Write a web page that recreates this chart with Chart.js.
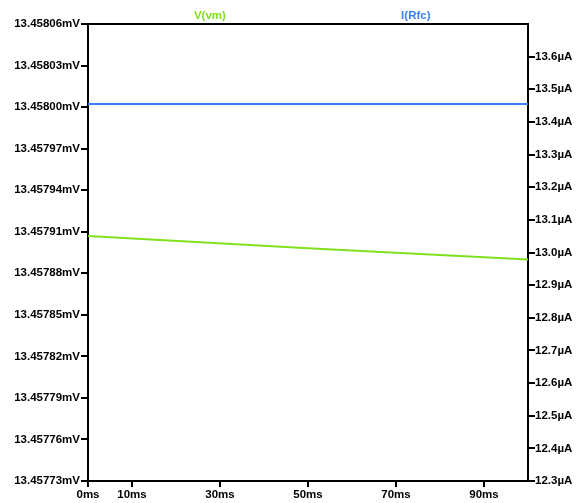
<!DOCTYPE html>
<html>
<head>
<meta charset="utf-8">
<script src="https://cdn.jsdelivr.net/npm/chart.js@4/dist/chart.umd.min.js"></script>
<style>
  html, body { margin: 0; padding: 0; background: #fff; }
</style>
</head>
<body>
<canvas id="plot" width="576" height="503"></canvas>
<script>
// V(vm) trace (mV)
const vmTime = [0, 50, 100];
const vmValues = [13.457907, 13.457898, 13.457890];

// I(Rfc) trace (µA), flat
const rfcTime = [0, 100];
const rfcValues = [13.4553, 13.4553];

const xTicks = [0, 10, 30, 50, 70, 90];
const leftTicks = [13.45773, 13.45776, 13.45779, 13.45782, 13.45785, 13.45788,
                   13.45791, 13.45794, 13.45797, 13.45800, 13.45803, 13.45806];
const rightTicks = [12.3, 12.4, 12.5, 12.6, 12.7, 12.8, 12.9, 13.0, 13.1, 13.2, 13.3, 13.4, 13.5, 13.6];

const GREEN = "#7fe01e";
const BLUE = "#3b7ff0";
const tickFont = { family: "'Liberation Sans', Arial, sans-serif", size: 11.5, weight: "bold" };

function fixedTicks(list) {
    return function (scale) {
        scale.ticks = list.map(v => ({ value: v }));
    };
}

// top frame line + trace names above the plot
const framePlugin = {
    id: "frame",
    afterDraw(c) {
        const ctx = c.ctx;
        const a = c.chartArea;
        ctx.save();
        ctx.strokeStyle = "#000";
        ctx.lineWidth = 2;
        ctx.beginPath();
        ctx.moveTo(a.left - 1, a.top);
        ctx.lineTo(a.right + 1, a.top);
        ctx.stroke();

        ctx.font = "bold 11.5px 'Liberation Sans', Arial, sans-serif";
        ctx.textAlign = "center";
        ctx.textBaseline = "middle";
        ctx.fillStyle = GREEN;
        ctx.fillText("V(vm)", a.left + (a.right - a.left) * 0.277, 16);
        ctx.fillStyle = BLUE;
        ctx.fillText("I(Rfc)", a.left + (a.right - a.left) * 0.745, 16);
        ctx.restore();
    }
};

const chart = new Chart(document.getElementById("plot").getContext("2d"), {
    type: "line",
    data: {
        datasets: [
            {
                label: "I(Rfc)",
                data: rfcTime.map((t, i) => ({ x: t, y: rfcValues[i] })),
                yAxisID: "yR",
                borderColor: BLUE,
                borderWidth: 2,
                pointRadius: 0,
                tension: 0
            },
            {
                label: "V(vm)",
                data: vmTime.map((t, i) => ({ x: t, y: vmValues[i] })),
                yAxisID: "yL",
                borderColor: GREEN,
                borderWidth: 2,
                pointRadius: 0,
                tension: 0
            }
        ]
    },
    options: {
        responsive: false,
        animation: false,
        devicePixelRatio: 1,
        layout: { padding: { top: 24, left: 0, right: 0, bottom: 0 } },
        plugins: {
            legend: { display: false },
            tooltip: { enabled: false }
        },
        scales: {
            x: {
                type: "linear",
                min: 0,
                max: 100,
                afterBuildTicks: fixedTicks(xTicks),
                afterFit(s) { s.height = 22; },
                grid: { drawOnChartArea: false, drawTicks: true, tickLength: 6, color: "#000", lineWidth: 2 },
                border: { display: true, color: "#000", width: 2 },
                ticks: {
                    color: "#000",
                    font: tickFont,
                    padding: 1,
                    maxRotation: 0,
                    autoSkip: false,
                    callback: v => v + "ms"
                }
            },
            yL: {
                type: "linear",
                position: "left",
                min: 13.45773,
                max: 13.45806,
                afterBuildTicks: fixedTicks(leftTicks),
                afterFit(s) { s.width = 88; },
                grid: { drawOnChartArea: false, drawTicks: true, tickLength: 7, color: "#000", lineWidth: 2 },
                border: { display: true, color: "#000", width: 2 },
                ticks: {
                    color: "#000",
                    font: tickFont,
                    padding: 1,
                    autoSkip: false,
                    callback: v => v.toFixed(5) + "mV"
                }
            },
            yR: {
                type: "linear",
                position: "right",
                min: 12.3,
                max: 13.7,
                afterBuildTicks: fixedTicks(rightTicks),
                afterFit(s) { s.width = 48; },
                grid: { drawOnChartArea: false, drawTicks: true, tickLength: 7, color: "#000", lineWidth: 2 },
                border: { display: true, color: "#000", width: 2 },
                ticks: {
                    color: "#000",
                    font: tickFont,
                    padding: 0,
                    autoSkip: false,
                    callback: v => v.toFixed(1) + "µA"
                }
            }
        }
    },
    plugins: [framePlugin]
});
</script>
</body>
</html>
